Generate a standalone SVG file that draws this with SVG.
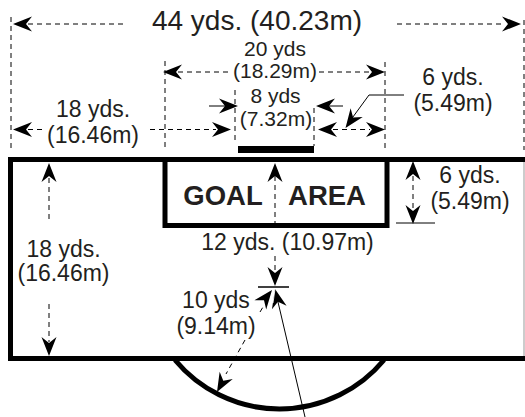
<svg xmlns="http://www.w3.org/2000/svg" width="525" height="417" viewBox="0 0 525 417">
<style>
text{font-family:"Liberation Sans",Arial,sans-serif;fill:#231f20;text-anchor:middle}
.t{font-size:23px}
.m{font-size:21px}
.big{font-size:28px}
.b{font-size:27.500px;font-weight:bold}
.h{fill:none;stroke:#000;stroke-width:5}
.d{fill:none;stroke:#000;stroke-width:1;stroke-dasharray:5 4}
.s{fill:none;stroke:#000;stroke-width:1}
.a{fill:#000;stroke:none}
</style>
<defs>
<path id="ah" class="a" d="M0 0L-19 -7.500L-13 0L-19 7.500Z"/>
</defs>
<g id="field">
<path d="M524 158V358" fill="none" stroke="#999" stroke-width="1"/>
<path class="h" d="M525 159.500H10.500V358.500H525"/>
<path class="h" d="M175 360A136 136 0 0 0 384 360"/>
</g>
<g id="goal-area">
<path class="h" d="M165 159.500V225.500H387V159.500"/>
<text class="b" x="223" y="205">GOAL</text>
<text class="b" x="327" y="205">AREA</text>
</g>
<g id="goal"><rect x="238" y="146" width="76" height="7" fill="#000"/></g>
<g id="connectors">
<path class="d" d="M11 17V150M165 61V150M235 90V143M314 108V146M385 62V150M524 20V150"/>
<path class="d" d="M28 24H127M397 24H505"/>
<use href="#ah" transform="translate(13 24) rotate(180)"/>
<use href="#ah" transform="translate(521 24)"/>
<path class="d" d="M178 72H230M319 72H370"/>
<use href="#ah" transform="translate(163 72) rotate(180)"/>
<use href="#ah" transform="translate(385 72)"/>
<path class="d" d="M28 129.500H42M150 129.500H216M333 129.500H370"/>
<use href="#ah" transform="translate(13 129.500) rotate(180)"/>
<use href="#ah" transform="translate(231 129.500)"/>
<use href="#ah" transform="translate(318 129.500) rotate(180)"/>
<use href="#ah" transform="translate(385 129.500)"/>
<path class="s" d="M209 106H225M329 106H343"/>
<use href="#ah" transform="translate(238 106)"/>
<use href="#ah" transform="translate(316 106) rotate(180)"/>
<path class="s" d="M404 95H369L350 121"/>
<use href="#ah" transform="translate(345.500 128) rotate(126)"/>
<path class="d" d="M49 178V220M49 304V342"/>
<use href="#ah" transform="translate(49 163) rotate(-90)"/>
<use href="#ah" transform="translate(49 356) rotate(90)"/>
<path class="d" d="M275 176V229M275 256V272"/>
<use href="#ah" transform="translate(275 163) rotate(-90)"/>
<use href="#ah" transform="translate(275 286) rotate(90)"/>
<path class="s" style="stroke-width:1.500" d="M258 287H289"/>
<path class="s" d="M396 223H435"/>
<path class="d" d="M413 176V210"/>
<use href="#ah" transform="translate(413 161) rotate(-90)"/>
<use href="#ah" transform="translate(413 224) rotate(90)"/>
<path class="s" d="M278 302L305 417"/>
<path class="d" d="M260 312L263 307M245 340L226 374"/>
<use href="#ah" transform="translate(217 392) rotate(119)"/>
<use href="#ah" transform="translate(272 290) rotate(-52)"/>
<use href="#ah" transform="translate(275 289) rotate(-103)" stroke="#fff"/>
<path d="M275 289L273 303" fill="none" stroke="#fff" stroke-width="0.800"/>
</g>
<g id="labels">
<text class="big" x="257" y="30">44 yds. (40.23m)</text>
<text class="m" x="275" y="56">20 yds</text>
<text class="m" x="275" y="78">(18.29m)</text>
<text class="t" x="93" y="117">18 yds.</text>
<text class="t" x="93" y="143">(16.46m)</text>
<text class="m" x="275.500" y="103">8 yds</text>
<text class="m" x="276" y="125.500">(7.32m)</text>
<text class="t" x="453" y="85">6 yds.</text>
<text class="t" x="453" y="111">(5.49m)</text>
<text class="t" x="470" y="183">6 yds.</text>
<text class="t" x="470" y="209">(5.49m)</text>
<text class="t" x="63.500" y="257">18 yds.</text>
<text class="t" x="63.500" y="281">(16.46m)</text>
<text class="t" x="287.500" y="250">12 yds. (10.97m)</text>
<text class="t" x="216" y="308">10 yds</text>
<text class="t" x="216" y="334">(9.14m)</text>
</g>
</svg>
